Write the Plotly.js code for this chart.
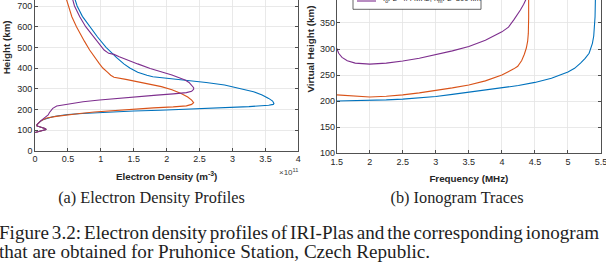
<!DOCTYPE html>
<html>
<head>
<meta charset="utf-8">
<script src="https://cdn.plot.ly/plotly-3.0.1.min.js"></script>
<style>
  html, body { margin: 0; padding: 0; background: #fff; overflow: hidden; width: 606px; height: 278px; }
  #fig { position: absolute; left: 0; top: -80px; width: 606px; height: 358px; }
  .cap { position: absolute; font-family: "Liberation Serif", "Times New Roman", serif; color: #1e1e1e; white-space: nowrap; line-height: 20px; }
  .sub { font-size: 16.3px; width: 220px; text-align: center; }
  .fig1 { font-size: 19.1px; }
  .just { width: 600px; text-align: justify; text-align-last: justify; word-spacing: -2px; }
</style>
</head>
<body>
<div id="fig"></div>
<div class="cap sub" style="left:41.5px; top:188px;">(a) Electron Density Profiles</div>
<div class="cap sub" style="left:347px; top:188px;">(b) Ionogram Traces</div>
<div class="cap fig1 just" style="left:-1px; top:223px;">Figure 3.2: Electron density profiles of IRI-Plas and the corresponding ionogram</div>
<div class="cap fig1" style="left:-1px; top:242px;">that are obtained for Pruhonice Station, Czech Republic.</div>
<script>
// ---- Electron density profiles: height (km) vs density (units of 1e11 m^-3) ----
const profileBlueHeight = [88, 93, 98, 103, 108, 114, 120, 126, 134, 142, 150, 158, 164, 169, 175, 180, 185, 192, 196, 200, 204, 209, 213, 220, 224, 229, 240, 253, 270, 285, 300, 318, 330, 340, 350, 358, 365, 380, 400, 420, 450, 500, 550, 600, 650, 700, 740];
const profileBlueDensity = [0.0, 0.05, 0.12, 0.17, 0.15, 0.08, 0.03, 0.03, 0.05, 0.08, 0.12, 0.2, 0.27, 0.36, 0.5, 0.72, 1.0, 1.5, 1.9, 2.3, 2.65, 3.0, 3.25, 3.55, 3.62, 3.63, 3.61, 3.55, 3.45, 3.32, 3.12, 2.88, 2.6, 2.3, 2.05, 1.79, 1.7, 1.56, 1.44, 1.35, 1.24, 1.08, 0.95, 0.83, 0.72, 0.64, 0.6];

const profileOrangeHeight = [88, 93, 98, 103, 108, 114, 120, 126, 134, 142, 150, 158, 166, 173, 180, 187, 193, 200, 207, 212, 217, 224, 232, 245, 260, 277, 295, 310, 322, 334, 345, 355, 365, 380, 400, 420, 450, 487, 530, 568, 600, 648, 700, 740];
const profileOrangeDensity = [0.0, 0.05, 0.12, 0.17, 0.15, 0.08, 0.03, 0.03, 0.05, 0.08, 0.12, 0.18, 0.32, 0.48, 0.68, 0.9, 1.15, 1.45, 1.8, 2.1, 2.3, 2.38, 2.41, 2.38, 2.32, 2.22, 2.08, 1.92, 1.75, 1.55, 1.38, 1.2, 1.15, 1.1, 1.03, 0.98, 0.91, 0.83, 0.75, 0.68, 0.63, 0.56, 0.51, 0.47];

const profilePurpleHeight = [88, 93, 98, 103, 108, 114, 120, 126, 134, 142, 150, 156, 165, 173, 185, 197, 205, 216, 226, 237, 245, 253, 261, 269, 275, 281, 288, 297, 305, 318, 330, 342, 352, 366, 380, 398, 420, 439, 455, 466, 471, 487, 530, 568, 600, 648, 700, 740];
const profilePurpleDensity = [0.0, 0.05, 0.12, 0.17, 0.15, 0.08, 0.03, 0.03, 0.05, 0.08, 0.11, 0.13, 0.17, 0.2, 0.22, 0.25, 0.27, 0.33, 0.5, 0.73, 0.98, 1.24, 1.55, 1.85, 2.1, 2.3, 2.38, 2.41, 2.41, 2.38, 2.34, 2.28, 2.2, 2.08, 1.94, 1.75, 1.56, 1.39, 1.28, 1.2, 1.12, 1.05, 0.94, 0.85, 0.77, 0.68, 0.6, 0.565];

const densityTicks = [0, 0.5, 1, 1.5, 2, 2.5, 3, 3.5, 4];
const heightTicks = [0, 100, 200, 300, 400, 500, 600, 700];

// ---- Ionogram traces: frequency (MHz) vs virtual height (km) ----
const traceBlueFreq = [1.5, 1.75, 2.0, 2.25, 2.5, 2.75, 3.0, 3.25, 3.5, 3.75, 4.0, 4.25, 4.5, 4.75, 5.0, 5.1, 5.19, 5.26, 5.32, 5.35, 5.37, 5.39, 5.40, 5.41, 5.415, 5.418];
const traceBlueHeight = [200.2, 200.5, 201, 202.5, 204, 206.5, 209, 213, 217, 221, 225, 230, 236, 244, 256, 263, 273, 282, 292, 302, 311, 325, 340, 362, 394, 405];

const traceOrangeFreq = [1.5, 1.75, 2.0, 2.25, 2.5, 2.75, 3.0, 3.25, 3.5, 3.75, 4.0, 4.1, 4.18, 4.24, 4.30, 4.34, 4.37, 4.39, 4.40, 4.405, 4.405];
const traceOrangeHeight = [212, 209.5, 208, 209.5, 212, 216, 220.5, 225.5, 231, 239, 250, 256, 262, 267, 278, 290, 302, 315, 330, 360, 405];

const tracePurpleFreq = [1.5, 1.53, 1.58, 1.66, 1.78, 2.0, 2.25, 2.5, 2.75, 3.0, 3.25, 3.5, 3.75, 4.0, 4.1, 4.18, 4.24, 4.28, 4.33, 4.36, 4.38];
const tracePurpleHeight = [301.5, 292, 284, 277.5, 273, 271, 273, 277, 282.5, 289, 296.5, 305, 317, 333, 342, 356, 366, 375, 386, 394, 405];

const freqTicks = [1.5, 2, 2.5, 3, 3.5, 4, 4.5, 5, 5.5];
const virtualHeightTicks = [100, 150, 200, 250, 300, 350];

const legendLabel = 'f<sub>o</sub>F2=4.4 MHz, h<sub>m</sub>F2=300 km';

const colors = { blue: '#0072BD', orange: '#D95319', purple: '#7E2F8E' };

// figure geometry (the figure is taller than the page; its top runs off-screen)
const W = 606, H = 358, OFF = 80;
const fx = p => p / W;
const fy = p => (H - (p + OFF)) / H;

const sans = 'Liberation Sans, Arial, sans-serif';
const tickFont = { family: sans, size: 9, color: '#262626' };
const titleFont = { family: sans, size: 9.8, color: '#262626', weight: 'bold' };

function axis(extra) {
  return Object.assign({
    showline: true, linecolor: '#262626', linewidth: 0.8, mirror: 'ticks',
    ticks: 'inside', ticklen: 3, tickwidth: 0.8, tickcolor: '#262626',
    showgrid: true, gridcolor: '#e4e4e4', gridwidth: 0.8,
    zeroline: false, tickfont: tickFont, automargin: false,
    ticklabeloverflow: 'allow', tickmode: 'array'
  }, extra);
}

const line = c => ({ color: c, width: 1.1 });

const data = [
  { x: profileBlueDensity, y: profileBlueHeight, xaxis: 'x', yaxis: 'y', mode: 'lines', line: line(colors.blue) },
  { x: profileOrangeDensity, y: profileOrangeHeight, xaxis: 'x', yaxis: 'y', mode: 'lines', line: line(colors.orange) },
  { x: profilePurpleDensity, y: profilePurpleHeight, xaxis: 'x', yaxis: 'y', mode: 'lines', line: line(colors.purple) },
  { x: traceBlueFreq, y: traceBlueHeight, xaxis: 'x2', yaxis: 'y2', mode: 'lines', line: line(colors.blue) },
  { x: traceOrangeFreq, y: traceOrangeHeight, xaxis: 'x2', yaxis: 'y2', mode: 'lines', line: line(colors.orange) },
  { x: tracePurpleFreq, y: tracePurpleHeight, xaxis: 'x2', yaxis: 'y2', mode: 'lines', line: line(colors.purple) }
];

// legend box of the ionogram panel (its upper entries sit above the page edge)
const legendBox = { x0: 353, x1: 481, top: -40, bottom: 9.3, lineX0: 357, lineX1: 376, rowY: -0.5, textX: 381 };

const layout = {
  width: W, height: H,
  margin: { l: 0, r: 0, t: 0, b: 0, autoexpand: false },
  paper_bgcolor: '#fff', plot_bgcolor: '#fff',
  showlegend: false,
  xaxis: axis({
    domain: [fx(35), fx(298.3)], anchor: 'y', range: [0, 4],
    tickvals: densityTicks, ticktext: densityTicks.map(String),
    title: { text: 'Electron Density (m<sup>-3</sup>)', font: titleFont, standoff: 9 }
  }),
  yaxis: axis({
    domain: [fy(150.7), fy(-56)], anchor: 'x', range: [0, 1000],
    tickvals: heightTicks, ticktext: heightTicks.map(String),
    title: { text: 'Height (km)', font: titleFont, standoff: 4 }
  }),
  xaxis2: axis({
    domain: [fx(336.7), fx(601)], anchor: 'y2', range: [1.5, 5.5],
    tickvals: freqTicks, ticktext: freqTicks.map(String),
    title: { text: 'Frequency (MHz)', font: titleFont, standoff: 9 }
  }),
  yaxis2: axis({
    domain: [fy(153.3), fy(-55.2)], anchor: 'x2', range: [100, 500],
    tickvals: virtualHeightTicks, ticktext: virtualHeightTicks.map(String),
    ticklabelstandoff: -1,
    title: { text: 'Virtual Height (km)', font: titleFont, standoff: 3 }
  }),
  shapes: [
    { type: 'rect', xref: 'paper', yref: 'paper', layer: 'above',
      x0: fx(legendBox.x0), x1: fx(legendBox.x1), y0: fy(legendBox.bottom), y1: fy(legendBox.top),
      fillcolor: '#ffffff', line: { color: '#262626', width: 0.7 } },
    { type: 'line', xref: 'paper', yref: 'paper', layer: 'above',
      x0: fx(legendBox.lineX0), x1: fx(legendBox.lineX1), y0: fy(legendBox.rowY + 1.5), y1: fy(legendBox.rowY + 1.5),
      line: { color: colors.purple, width: 1.1 } }
  ],
  annotations: [
    { text: '×10<sup>11</sup>', xref: 'paper', yref: 'paper', x: fx(288), y: fy(172),
      xanchor: 'center', yanchor: 'middle', showarrow: false,
      font: { family: sans, size: 8, color: '#404040' } },
    { text: legendLabel, xref: 'paper', yref: 'paper', x: fx(legendBox.textX), y: fy(legendBox.rowY),
      xanchor: 'left', yanchor: 'middle', showarrow: false,
      font: { family: sans, size: 7.6, color: '#262626' } }
  ]
};

Plotly.newPlot('fig', data, layout, { staticPlot: true, displayModeBar: false });
</script>
</body>
</html>
